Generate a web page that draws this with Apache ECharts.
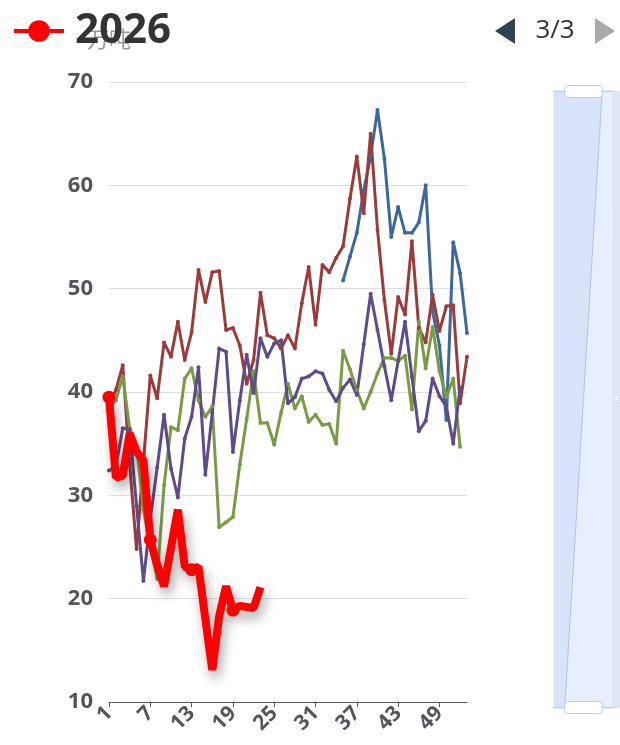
<!DOCTYPE html>
<html>
<head>
<meta charset="utf-8">
<script src="https://cdn.jsdelivr.net/npm/echarts@6/dist/echarts.min.js"></script>
<style>
  html, body { margin: 0; padding: 0; background: #fff; }
  #main { width: 620px; height: 745px; }
</style>
</head>
<body>
<div id="main"></div>
<script>
// weeks 1..53
var weeks = [];
for (var i = 1; i <= 53; i++) weeks.push(String(i));

var years = ['2022', '2023', '2024', '2025', '2026'];
var colors = ['#3a699a', '#9b3c3c', '#7a9b46', '#5f4b87', '#ff0000'];

// 2022 only starts at week 35
var data2022 = [null, null, null, null, null, null, null, null, null, null,
  null, null, null, null, null, null, null, null, null, null,
  null, null, null, null, null, null, null, null, null, null,
  null, null, null, null,
  50.8, 53.1, 55.4, 59.5, 62.8, 67.3, 62.6, 55.0, 57.9, 55.4,
  55.4, 56.4, 60.0, 47.8, 44.5, 37.3, 54.5, 51.5, 45.7];

var data2023 = [38.6, 40.2, 42.6, 33.0, 24.8, 33.2, 41.6, 39.4, 44.8, 43.4,
  46.8, 43.1, 45.8, 51.8, 48.7, 51.6, 51.7, 46.0, 46.2, 44.5,
  40.8, 43.1, 49.6, 45.5, 45.2, 44.2, 45.5, 44.2, 48.6, 52.1,
  46.5, 52.3, 51.6, 53.0, 54.1, 58.7, 62.8, 57.3, 65.0, 55.7,
  48.9, 43.7, 49.2, 47.5, 54.6, 46.2, 44.8, 49.4, 45.9, 48.3,
  48.4, 38.9, 43.4];

var data2024 = [38.4, 39.2, 41.5, 36.5, 34.8, 28.6, 25.0, 21.9, 31.0, 36.6,
  36.3, 41.3, 42.3, 39.2, 37.6, 38.6, 26.9, 27.4, 27.9, 33.0,
  37.4, 42.0, 37.0, 37.0, 34.9, 38.0, 40.8, 38.4, 39.6, 37.1,
  37.8, 36.8, 36.9, 35.0, 44.0, 42.2, 40.2, 38.4, 40.0, 41.8,
  43.3, 43.3, 43.0, 43.5, 38.3, 46.8, 42.3, 46.3, 42.0, 39.5,
  41.3, 34.7];

var data2025 = [32.4, 32.8, 36.5, 36.4, 29.0, 21.7, 27.7, 32.7, 37.8, 32.6,
  29.8, 35.5, 37.6, 42.4, 32.0, 38.0, 44.2, 43.9, 34.2, 39.2,
  43.6, 39.9, 45.2, 43.4, 44.7, 45.0, 38.9, 39.5, 41.3, 41.5,
  42.0, 41.8, 40.2, 39.1, 40.4, 41.2, 39.7, 44.6, 49.5, 46.0,
  42.5, 39.2, 43.0, 46.8, 41.5, 36.2, 37.2, 41.3, 39.6, 38.6,
  35.0, 40.4];

var data2026 = [39.5, 31.7, 31.9, 36.0, 34.2, 33.4, 25.7, 23.3, 21.2, 24.9,
  28.6, 23.1, 22.8, 23.1, 18.0, 13.1, 18.3, 21.2, 18.9, 19.3,
  19.2, 19.1, 21.1];

var yTicks = { min: 10, max: 70, interval: 10 };

var seriesData = [data2022, data2023, data2024, data2025, data2026];

var chart = echarts.init(document.getElementById('main'));

var series = [];
for (var s = 0; s < years.length; s++) {
  var isCur = s === years.length - 1;
  series.push({
    name: years[s],
    type: 'line',
    data: seriesData[s],
    symbol: 'circle',
    symbolSize: isCur ? 13 : 4,
    z: isCur ? 10 : 2,
    lineStyle: isCur ? {
      width: 8,
      shadowColor: 'rgba(0,0,0,0.35)',
      shadowBlur: 12,
      shadowOffsetX: 3,
      shadowOffsetY: 7
    } : { width: 3 }
  });
}

var option = {
  color: colors,
  textStyle: { fontFamily: '"Open Sans", "Noto Sans CJK SC", sans-serif' },
  legend: {
    type: 'scroll',
    left: 7,
    right: 3,
    top: 5,
    itemWidth: 50,
    itemHeight: 27,
    itemGap: 60,
    pageButtonGap: 20,
    pageButtonItemGap: 8,
    scrollDataIndex: 4,
    lineStyle: { width: 4 },
    textStyle: { fontSize: 42, fontWeight: 'bold', color: '#333', padding: [0, 0, 0, 6] },
    pageIcons: {
      horizontal: ['path://M0,13L20,0L20,26z', 'path://M20,13L0,0L0,26z']
    },
    pageIconSize: [20, 26],
    pageIconColor: '#2f4554',
    pageIconInactiveColor: '#aaa',
    pageTextStyle: { fontSize: 26, color: '#333' },
    data: years
  },
  grid: { left: 109, right: 153, top: 82, bottom: 43 },
  xAxis: {
    type: 'category',
    boundaryGap: false,
    data: weeks,
    axisLabel: { rotate: 45, interval: 5, fontSize: 21, fontWeight: 'bold' }
  },
  yAxis: {
    type: 'value',
    name: '万吨',
    nameGap: 30,
    nameTextStyle: { fontSize: 22, color: '#999' },
    min: yTicks.min,
    max: yTicks.max,
    interval: yTicks.interval,
    axisLabel: { fontSize: 22, fontWeight: 'bold', margin: 16 }
  },
  dataZoom: [{
    type: 'slider',
    yAxisIndex: 0,
    orient: 'vertical',
    right: 7,
    width: 60,
    top: 88,
    bottom: 39,
    start: 0,
    end: 100,
    filterMode: 'none',
    moveHandleStyle: { color: '#D2DBEE', opacity: 0.7 }
  }],
  series: series
};

chart.setOption(option);
</script>
</body>
</html>
